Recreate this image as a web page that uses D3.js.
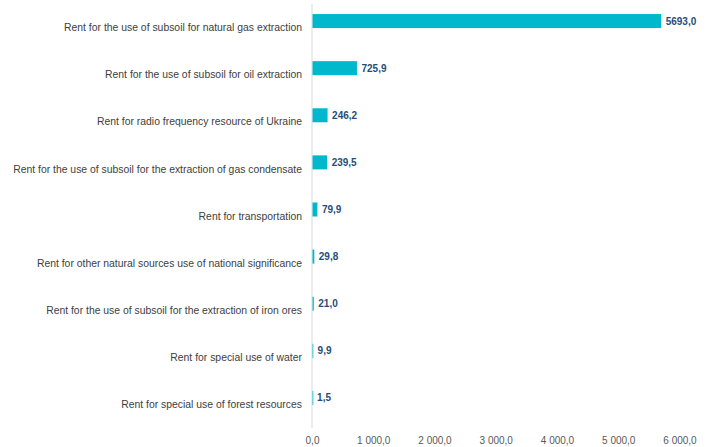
<!DOCTYPE html>
<html>
<head>
<meta charset="utf-8">
<script src="https://cdn.jsdelivr.net/npm/d3@7"></script>
<style>
  html, body { margin: 0; padding: 0; background: #fff; }
  svg { display: block; font-family: "Liberation Sans", Arial, sans-serif; }
</style>
</head>
<body>
<svg id="chart" width="711" height="447"></svg>
<script>
// Rent payments by type (values as shown in labels)
const categories = [
  "Rent for the use of subsoil for natural gas extraction",
  "Rent for the use of subsoil for oil extraction",
  "Rent for radio frequency resource of Ukraine",
  "Rent for the use of subsoil for the extraction of gas condensate",
  "Rent for transportation",
  "Rent for other natural sources use of national significance",
  "Rent for the use of subsoil for the extraction of iron ores",
  "Rent for special use of water",
  "Rent for special use of forest resources"
];
const values = [5693.0, 725.9, 246.2, 239.5, 79.9, 29.8, 21.0, 9.9, 1.5];
const tickValues = [0, 1000, 2000, 3000, 4000, 5000, 6000];

const svg = d3.select("#chart");

const x = d3.scaleLinear().domain([0, 6000]).range([312, 679.5]);
const y = d3.scaleBand().domain(categories).range([4, 428]);

// number format: space thousands separator, comma decimal
const fmtTick = v => d3.format(",.1f")(v).replace(/,/g, " ").replace(".", ",");
const fmtVal = v => d3.format(".1f")(v).replace(".", ",");

// vertical category axis line
svg.append("line")
  .attr("x1", x(0)).attr("x2", x(0))
  .attr("y1", y.range()[0]).attr("y2", y.range()[1])
  .attr("stroke", "#d9d9d9").attr("stroke-width", 1);

const barH = 14;
const barShift = -6.5;

svg.append("g").selectAll("rect")
  .data(values)
  .join("rect")
  .attr("x", x(0) + 0.5)
  .attr("y", (d, i) => y(categories[i]) + y.bandwidth() / 2 + barShift - barH / 2)
  .attr("width", d => Math.max(x(d) - x(0), 0.8))
  .attr("height", barH)
  .attr("fill", "#00b8cc");

// value labels
svg.append("g").selectAll("text")
  .data(values)
  .join("text")
  .attr("x", d => x(d) + 5)
  .attr("y", (d, i) => y(categories[i]) + y.bandwidth() / 2 + barShift)
  .attr("dy", "0.35em")
  .attr("font-size", "10px")
  .attr("font-weight", "bold")
  .attr("fill", "#1f4e79")
  .text(fmtVal);

// category labels
svg.append("g").selectAll("text")
  .data(categories)
  .join("text")
  .attr("x", x(0) - 10)
  .attr("y", d => y(d) + y.bandwidth() / 2)
  .attr("dy", "0.35em")
  .attr("text-anchor", "end")
  .attr("font-size", "10.4px")
  .attr("fill", "#404040")
  .text(d => d);

// value axis
const xAxis = d3.axisBottom(x).tickValues(tickValues).tickFormat(fmtTick).tickSize(0).tickPadding(0);
const gx = svg.append("g").attr("transform", "translate(0,437)").call(xAxis);
gx.select(".domain").remove();
gx.selectAll("text")
  .attr("font-size", "10px")
  .attr("font-family", "Liberation Sans, Arial, sans-serif")
  .attr("fill", "#595959");
</script>
</body>
</html>
